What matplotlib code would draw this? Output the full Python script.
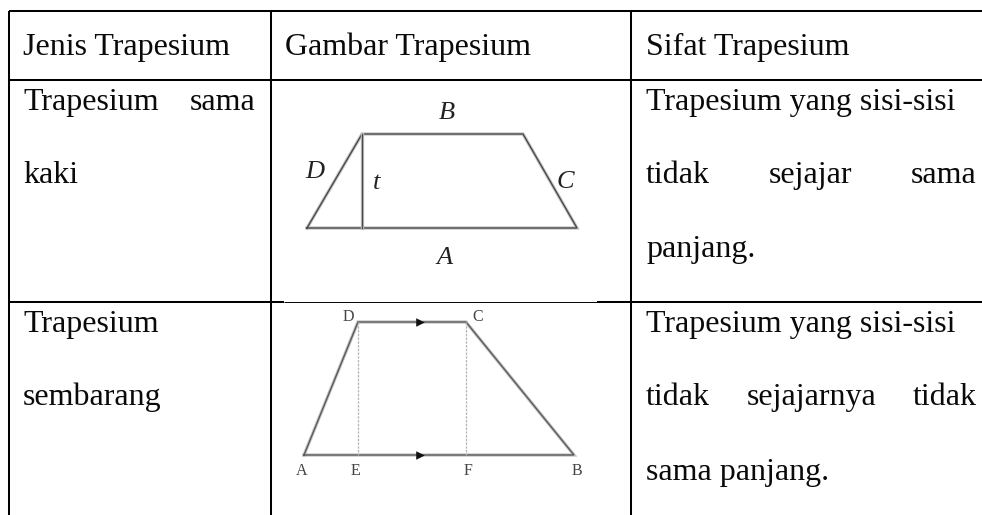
import matplotlib
matplotlib.use("Agg")
import matplotlib.pyplot as plt
import matplotlib.patheffects as pe

W, H = 982, 515
# table grid
col_lines = [9, 271, 631]
row_lines = [11, 79.5, 302]
table_bottom = 515
# text: (word, left x, baseline y)
header_words = [("Jenis Trapesium", 23, 55), ("Gambar Trapesium", 285, 55), ("Sifat Trapesium", 646, 55)]
body_words = [
    ("Trapesium", 23, 110), ("sama", 190, 110), ("kaki", 23, 183),
    ("Trapesium yang sisi-sisi", 646, 110),
    ("tidak", 646, 183), ("sejajar", 769, 183), ("sama", 911, 183),
    ("panjang.", 646, 257),
    ("Trapesium", 23, 332), ("sembarang", 23, 405),
    ("Trapesium yang sisi-sisi", 646, 332),
    ("tidak", 646, 405), ("sejajarnya", 747, 405), ("tidak", 913, 405),
    ("sama panjang.", 646, 480),
]
# isosceles-labelled trapezoid
trap1_x = [307, 362, 523, 577, 307]
trap1_y = [228, 134, 134, 228, 228]
trap1_height_x = [362, 362]
trap1_height_y = [134, 228]
trap1_labels = [("B", 447, 113), ("D", 315, 172), ("t", 377, 183), ("C", 565, 182), ("A", 445, 258)]
# general trapezoid
trap2_x = [304, 358, 466, 574, 304]
trap2_y = [455, 322, 322, 455, 455]
trap2_dash_x = [358, 466]
trap2_dash_y = [322, 455]
trap2_arrow_x = [420, 420]
trap2_arrow_y = [322, 455]
trap2_labels = [("D", 348, 317), ("C", 478, 317), ("A", 302, 471), ("E", 355, 471), ("F", 468, 471), ("B", 577, 471)]

SERIF = "Liberation Serif"
fig = plt.figure(figsize=(W / 100, H / 100), dpi=100, facecolor="white")
ax = fig.add_axes([0, 0, 1, 1])
ax.set_xlim(0, W)
ax.set_ylim(H, 0)
ax.axis("off")

# grid
lw = 1.45
for x in col_lines:
    ax.plot([x, x], [row_lines[0], table_bottom], color="black", lw=lw, solid_capstyle="butt")
ax.plot([col_lines[0], W], [row_lines[0]] * 2, color="black", lw=lw, solid_capstyle="butt")
ax.plot([col_lines[0], W], [row_lines[1]] * 2, color="black", lw=lw, solid_capstyle="butt")
ax.plot([col_lines[0], 284], [row_lines[2]] * 2, color="black", lw=lw, solid_capstyle="butt")
ax.plot([284, 597], [row_lines[2] - 0.5] * 2, color="black", lw=0.7, solid_capstyle="butt")
ax.plot([597, W], [row_lines[2]] * 2, color="black", lw=lw, solid_capstyle="butt")

# text
for word, x, y in header_words + body_words:
    ax.text(x, y, word, family=SERIF, fontsize=23, color="#0a0a0a", ha="left", va="baseline")

# soft stroke imitating the scaled raster figures
soft = [pe.Stroke(linewidth=2.4, foreground="#c4c4c4"), pe.Normal()]
ax.plot(trap1_x, trap1_y, color="#4a4a4a", lw=1.0, path_effects=soft, solid_joinstyle="miter")
ax.plot(trap1_height_x, trap1_height_y, color="#4a4a4a", lw=1.0, path_effects=soft)
for s, x, y in trap1_labels:
    ax.text(x, y, s, family=SERIF, style="italic", fontsize=19, color="#222222", ha="center", va="center")

ax.plot(trap2_x, trap2_y, color="#5a5a5a", lw=1.0, path_effects=soft, solid_joinstyle="miter")
for x in trap2_dash_x:
    ax.plot([x, x], trap2_dash_y, color="#b5b5b5", lw=0.9, ls=(0, (2, 1)))
ax.scatter(trap2_arrow_x, trap2_arrow_y, marker=">", s=38, color="#111111", linewidths=0, zorder=5)
for s, x, y in trap2_labels:
    ax.text(x, y, s, family=SERIF, fontsize=11.5, color="#444444", ha="center", va="center")

fig.savefig("out.png", dpi=100, facecolor="white")
